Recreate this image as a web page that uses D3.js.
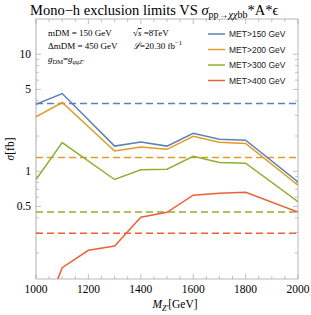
<!DOCTYPE html>
<html>
<head>
<meta charset="utf-8">
<script src="https://cdn.jsdelivr.net/npm/d3@7"></script>
<style>
  body { margin: 0; background: #fff; }
  text { font-family: "Liberation Serif", "DejaVu Serif", serif; }
  .legend text { font-family: "Liberation Sans", Arial, sans-serif; }
</style>
</head>
<body>
<div id="chart"></div>
<script>
// Z' masses (GeV)
const masses = [1000, 1100, 1300, 1400, 1500, 1600, 1700, 1800, 2000];
const massesRed = [1000, 1100, 1200, 1300, 1400, 1500, 1600, 1700, 1800, 2000];

// sigma * A * eps [fb] per MET cut
const met150 = [3.74, 4.61, 1.64, 1.78, 1.64, 2.11, 1.88, 1.84, 0.81];
const met200 = [2.91, 3.87, 1.49, 1.61, 1.54, 1.99, 1.77, 1.73, 0.76];
const met300 = [0.85, 1.76, 0.85, 1.03, 1.04, 1.34, 1.19, 1.17, 0.55];
const met400 = [0.04, 0.150, 0.211, 0.230, 0.404, 0.446, 0.624, 0.649, 0.66, 0.449];

// observed limits (dashed)
const limits = [3.79, 1.31, 0.449, 0.295];

const seriesNames = ["MET>150 GeV", "MET>200 GeV", "MET>300 GeV", "MET>400 GeV"];
const colors = ["#5e81b5", "#e19c24", "#8fb032", "#eb6235"];

const yTickLabels = [0.5, 1, 5, 10];
const xTickLabels = [1000, 1200, 1400, 1600, 1800, 2000];

const W = 311, H = 315;
const pl = 36, pr = 298, pt = 19, pb = 279;

const svg = d3.select("#chart").append("svg")
    .attr("width", W)
    .attr("height", H);

const x = d3.scaleLinear().domain([1000, 2000]).range([pl, pr]);
const y = d3.scaleLog().domain([0.12, 20]).range([pb, pt]);

svg.append("defs").append("clipPath").attr("id", "clip")
  .append("rect")
    .attr("x", pl).attr("y", pt)
    .attr("width", pr - pl).attr("height", pb - pt);

// frame
const frameColor = "#a8a8a8";
svg.append("rect")
    .attr("x", pl).attr("y", pt)
    .attr("width", pr - pl).attr("height", pb - pt)
    .attr("fill", "none")
    .attr("stroke", frameColor)
    .attr("stroke-width", 0.8);
// y-axis line (Mathematica draws a thicker light axis at x origin)
svg.append("line")
    .attr("x1", pl).attr("x2", pl)
    .attr("y1", pt).attr("y2", pb)
    .attr("stroke", "#d6d6d6")
    .attr("stroke-width", 2);

// ticks
const xMajor = d3.range(1000, 2001, 200);
const xMinor = d3.range(1000, 2001, 50).filter(v => v % 200 !== 0);
const yMajor = yTickLabels;
const yMinor = [0.2, 0.3, 0.4, 0.6, 0.7, 0.8, 0.9, 2, 3, 4, 6, 7, 8, 9, 20];

const ticks = svg.append("g").attr("stroke", frameColor).attr("stroke-width", 0.7);
xMajor.forEach(v => {
  ticks.append("line").attr("x1", x(v)).attr("x2", x(v)).attr("y1", pb).attr("y2", pb - 5);
  ticks.append("line").attr("x1", x(v)).attr("x2", x(v)).attr("y1", pt).attr("y2", pt + 5);
});
xMinor.forEach(v => {
  ticks.append("line").attr("x1", x(v)).attr("x2", x(v)).attr("y1", pb).attr("y2", pb - 3);
  ticks.append("line").attr("x1", x(v)).attr("x2", x(v)).attr("y1", pt).attr("y2", pt + 3);
});
yMajor.forEach(v => {
  ticks.append("line").attr("x1", pl).attr("x2", pl + 5).attr("y1", y(v)).attr("y2", y(v));
  ticks.append("line").attr("x1", pr).attr("x2", pr - 5).attr("y1", y(v)).attr("y2", y(v));
});
yMinor.filter(v => v > 0.12 && v < 20).forEach(v => {
  ticks.append("line").attr("x1", pl).attr("x2", pl + 3).attr("y1", y(v)).attr("y2", y(v));
  ticks.append("line").attr("x1", pr).attr("x2", pr - 3).attr("y1", y(v)).attr("y2", y(v));
});

// tick labels
svg.append("g").selectAll("text")
  .data(xTickLabels)
  .enter().append("text")
    .attr("x", d => x(d))
    .attr("y", 293)
    .attr("text-anchor", "middle")
    .attr("font-size", 11.5)
    .text(d => d);

svg.append("g").selectAll("text")
  .data(yTickLabels)
  .enter().append("text")
    .attr("x", 31)
    .attr("y", d => y(d) + 4)
    .attr("text-anchor", "end")
    .attr("font-size", 11.5)
    .text(d => d);

// dashed limit lines
const plot = svg.append("g").attr("clip-path", "url(#clip)");
limits.forEach((v, i) => {
  plot.append("line")
      .attr("x1", pl).attr("x2", pr)
      .attr("y1", y(v)).attr("y2", y(v))
      .attr("stroke", colors[i])
      .attr("stroke-width", 1.5)
      .attr("stroke-dasharray", "7,4");
});

// solid series
const series = [
  { xs: masses, ys: met150 },
  { xs: masses, ys: met200 },
  { xs: masses, ys: met300 },
  { xs: massesRed, ys: met400 }
];
const line = d3.line().x(d => x(d[0])).y(d => y(d[1]));
series.forEach((s, i) => {
  plot.append("path")
      .datum(s.xs.map((m, j) => [m, s.ys[j]]))
      .attr("fill", "none")
      .attr("stroke", colors[i])
      .attr("stroke-width", 1.5)
      .attr("d", line);
});

// legend
const legend = svg.append("g").attr("class", "legend");
seriesNames.forEach((name, i) => {
  const ly = 34 + i * 15.5;
  legend.append("line")
      .attr("x1", 208).attr("x2", 225)
      .attr("y1", ly).attr("y2", ly)
      .attr("stroke", colors[i])
      .attr("stroke-width", 1.5);
  legend.append("text")
      .attr("x", 229).attr("y", ly + 3)
      .attr("font-size", 8.5)
      .attr("fill", "#222")
      .text(name);
});

// annotations
const ann = svg.append("g").attr("font-size", 9);
ann.append("text").attr("x", 48).attr("y", 36).text("mDM = 150 GeV");
ann.append("text").attr("x", 48).attr("y", 49).text("ΔmDM = 450 GeV");
const g = ann.append("text").attr("x", 48).attr("y", 62).attr("font-style", "italic");
g.append("tspan").text("g");
g.append("tspan").attr("font-size", 6.5).attr("dy", 2).attr("font-style", "normal").text("DM");
g.append("tspan").attr("dy", -2).attr("font-style", "normal").text("=");
g.append("tspan").text("g");
g.append("tspan").attr("font-size", 6.5).attr("dy", 2).text("qqZ'");

const sq = ann.append("text").attr("x", 133).attr("y", 36);
sq.append("tspan").text("√");
sq.append("tspan").attr("font-style", "italic").attr("text-decoration", "overline").text("s");
sq.append("tspan").text(" =8TeV");
const lum = ann.append("text").attr("x", 133).attr("y", 49);
lum.append("tspan").attr("font-style", "italic").text("ℒ");
lum.append("tspan").text("=20.30 fb");
lum.append("tspan").attr("font-size", 6.5).attr("dy", -4).text("−1");

// title
const title = svg.append("text").attr("x", 30).attr("y", 15).attr("font-size", 14.5);
title.append("tspan").text("Mono−h exclusion limits VS ");
title.append("tspan").attr("font-style", "italic").text("σ");
title.append("tspan").attr("font-size", 10).attr("dy", 3).text("pp→");
title.append("tspan").attr("font-size", 10).attr("font-style", "italic").text("χχ");
title.append("tspan").attr("font-size", 10).text("bb");
title.append("tspan").attr("dy", -3).text("*A*ϵ");

// axis labels
const yl = svg.append("text")
    .attr("transform", `translate(14, ${(pt + pb) / 2}) rotate(-90)`)
    .attr("text-anchor", "middle")
    .attr("font-size", 11.5);
yl.append("tspan").attr("font-style", "italic").text("σ");
yl.append("tspan").text("[fb]");

const xl = svg.append("text")
    .attr("x", 175).attr("y", 308)
    .attr("text-anchor", "middle")
    .attr("font-size", 11.5);
xl.append("tspan").attr("font-style", "italic").text("M");
xl.append("tspan").attr("font-size", 8).attr("font-style", "italic").attr("dy", 3).text("Z'");
xl.append("tspan").attr("dy", -3).text("[GeV]");
</script>
</body>
</html>
